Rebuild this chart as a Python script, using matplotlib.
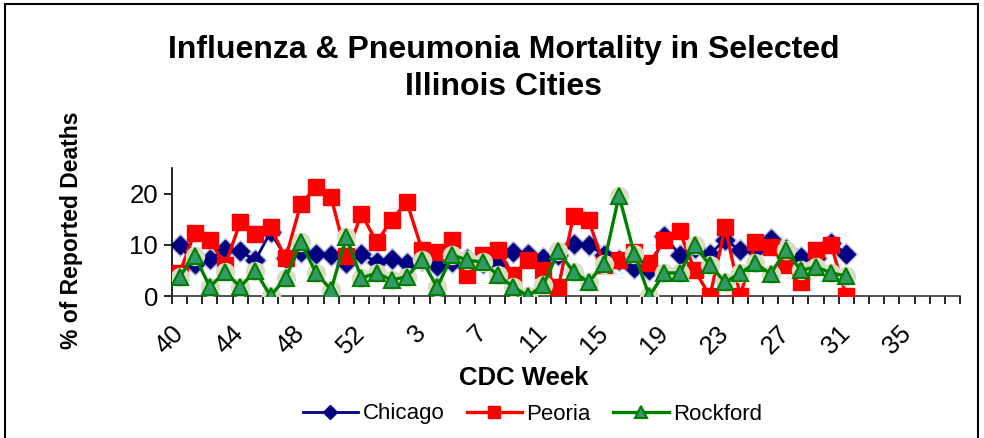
import matplotlib
matplotlib.use("Agg")
import matplotlib.pyplot as plt
from matplotlib.patches import Rectangle
import numpy as np

plt.rcParams['font.family'] = ['Liberation Sans', 'DejaVu Sans']

# CDC weeks 40..53 then 1..38
weeks = list(range(40, 54)) + list(range(1, 39))

# % of reported deaths, weeks 40 .. 31 (45 values)
chicago = [9.9, 6.2, 7.2, 9.1, 8.7, 7.0, 12.5, 7.5, 8.5, 8.2,
           8.0, 6.5, 8.3, 6.6, 7.3, 6.5, 7.0, 5.8, 6.6, 7.2,
           6.4, 6.5, 8.5, 8.3, 7.4, 8.0, 10.2, 10.0, 8.0, 7.0,
           5.4, 5.0, 11.8, 8.0, 9.3, 8.2, 11.0, 8.9, 9.0, 11.2,
           9.2, 7.6, 7.4, 10.3, 8.3]
peoria = [4.5, 12.4, 10.9, 6.0, 14.4, 12.2, 13.4, 7.4, 18.0, 21.2,
          19.3, 7.8, 16.1, 10.5, 14.9, 18.3, 9.0, 8.5, 10.9, 4.1,
          8.0, 8.9, 4.1, 7.0, 5.0, 1.8, 15.7, 14.8, 6.0, 7.0,
          8.5, 6.4, 10.9, 12.6, 5.0, 0.0, 13.4, 0.0, 10.5, 9.5,
          6.0, 2.7, 8.9, 9.9, 0.0]
rockford = [3.8, 7.8, 1.8, 4.7, 1.8, 4.9, 0.0, 3.5, 10.5, 4.5,
            1.2, 11.5, 3.5, 4.5, 3.1, 3.8, 7.0, 1.7, 8.0, 7.0,
            6.6, 4.1, 1.8, 0.0, 2.1, 8.7, 4.7, 2.7, 6.3, 19.6,
            8.3, 0.0, 4.5, 4.5, 9.9, 6.0, 2.7, 4.5, 6.4, 4.3,
            8.9, 5.0, 5.7, 4.5, 3.9]

fig = plt.figure(figsize=(9.84, 4.38), dpi=100)
ax = fig.add_axes([0.1748, 0.3242, 0.8008, 0.2922])

x = np.arange(len(chicago))

# light shadow behind the markers
ax.plot(x, chicago, ls='none', marker='D', ms=11, color='#b8bcd8', zorder=1)
ax.plot(x, rockford, ls='none', marker='o', ms=13, color='#dcdcc4', zorder=4)

ax.plot(x, chicago, color='#000080', lw=2, marker='D', ms=9,
        mfc='#000080', mec='#000080', label='Chicago', zorder=2)
ax.plot(x, peoria, color='#ff0000', lw=2.4, marker='s', ms=12,
        mfc='#ff0000', mec='#ff0000', label='Peoria', zorder=3)
ax.plot(x, rockford, color='#008000', lw=2.4, marker='^', ms=12,
        mfc='#339966', mec='#008000', mew=1.5, label='Rockford', zorder=5)

ax.set_xlim(-0.5, len(weeks) - 0.5)
ax.set_ylim(0, 25)
ax.set_yticks([0, 10, 20])
ax.tick_params(axis='y', labelsize=18.5, length=6, width=1.2, pad=4)

# tick marks between categories, labels every 4th week
ax.set_xticks(np.arange(-0.5, len(weeks), 1.0))
ax.set_xticklabels([])
ax.tick_params(axis='x', which='major', length=6, width=1.2, direction='out')
lab_pos = np.arange(0, len(weeks), 4)
ax.set_xticks(lab_pos, minor=True)
ax.set_xticklabels([str(weeks[i]) for i in lab_pos], minor=True,
                   rotation=45, ha='right', va='center', rotation_mode='anchor',
                   fontsize=18.5)
ax.tick_params(axis='x', which='minor', length=0, pad=24)

for s in ['top', 'right']:
    ax.spines[s].set_visible(False)
ax.spines['left'].set_linewidth(1.2)
ax.spines['bottom'].set_linewidth(1.2)
ax.spines['bottom'].set_color('#333333')

fig.text(0.512, 1 - 35 / 438, 'Influenza & Pneumonia Mortality in Selected\nIllinois Cities',
         ha='center', va='top', fontsize=23, fontweight='bold', linespacing=1.3)
fig.text(0.073, 0.475, '% of Reported Deaths', rotation=90, ha='center', va='center',
         fontsize=16.5, fontweight='bold')
fig.text(0.532, 1 - 378 / 438, 'CDC Week', ha='center', va='center',
         fontsize=18.5, fontweight='bold')

fig.legend(loc='center', bbox_to_anchor=(0.541, 1 - 414 / 438), ncol=3, frameon=False,
           fontsize=16, handlelength=2.5, columnspacing=1.0, handletextpad=0.2,
           markerscale=0.75)

fig.patches.append(Rectangle((5 / 984, -0.05), 973 / 984, 1.05 - 4 / 438,
                             transform=fig.transFigure, fill=False,
                             edgecolor='black', lw=1.5))

fig.savefig('out.png', dpi=100)
